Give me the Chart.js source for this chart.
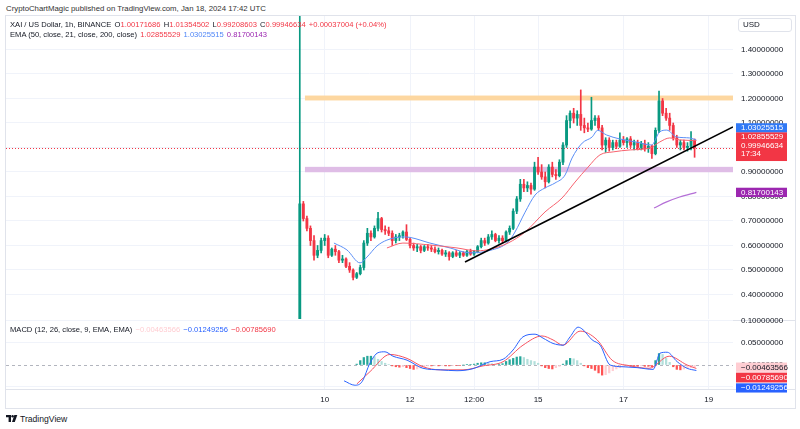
<!DOCTYPE html>
<html><head><meta charset="utf-8">
<script src="https://cdn.jsdelivr.net/npm/chart.js@4.4.1/dist/chart.umd.min.js"></script>
<style>
body{margin:0;width:800px;height:429px;background:#fff;position:relative;overflow:hidden;font-family:'Liberation Sans',Arial,sans-serif;color:#131722}
.t{position:absolute;white-space:pre;font-size:7.6px;line-height:10px}
.t span{margin-left:3.2px}
.r{color:#f23645}
canvas{position:absolute}
.ln{position:absolute;background:#e0e3eb}
</style></head><body>
<div class="t" style="left:6px;top:4px;color:#333;font-size:7.8px">CryptoChartMagic published on TradingView.com, Jan 18, 2024 17:42 UTC</div>
<div style="position:absolute;left:5px;top:15px;width:791px;height:394px;border:1px solid #e0e3eb;box-sizing:border-box"></div>
<div class="ln" style="left:5px;top:320px;width:791px;height:1px"></div>
<div class="ln" style="left:5px;top:389px;width:791px;height:1px"></div>
<canvas id="main" width="789" height="303" style="left:6px;top:16px"></canvas>
<canvas id="macd" width="789" height="98" style="left:6px;top:310px"></canvas>
<div class="t" style="left:10px;top:20px">XAI / US Dollar, 1h, BINANCE<span>O<b class="r" style="font-weight:normal">1.00171686</b></span><span>H<b class="r" style="font-weight:normal">1.01354502</b></span><span>L<b class="r" style="font-weight:normal">0.99208603</b></span><span>C<b class="r" style="font-weight:normal">0.99946634</b></span><span class="r">+0.00037004 (+0.04%)</span></div>
<div class="t" style="left:10px;top:30px">EMA (50, close, 21, close, 200, close)<span style="color:#f23645">1.02855529</span><span style="color:#4f86f7">1.03025515</span><span style="color:#9c27b0">0.81700143</span></div>
<div class="t" style="left:10px;top:324.5px">MACD (12, 26, close, 9, EMA, EMA)<span style="color:#ffcdd2">−0.00463566</span><span style="color:#2962ff">−0.01249256</span><span style="color:#f23645">−0.00785690</span></div>
<div style="position:absolute;left:738px;top:18px;width:54px;height:14px;border:1px solid #e0e3eb;border-radius:3px;box-sizing:border-box;background:#fff"></div>
<div class="t" style="left:743px;top:20px;font-size:8px">USD</div>
<svg style="position:absolute;left:6px;top:415px" width="12" height="8" viewBox="0 0 12 8"><path d="M0 0H5V7H2.6V2.2H0Z" fill="#131722"/><circle cx="6.6" cy="1.2" r="1.2" fill="#131722"/><path d="M8.3 0H11.3L8.8 7H6Z" fill="#131722"/></svg>
<div class="t" style="left:20px;top:414px;font-size:8.6px">TradingView</div>
<script>
// ---- data ----
const priceTicks = [0.4,0.5,0.6,0.7,0.8,0.9,1.0,1.1,1.2,1.3,1.4];
const macdTicks = [-0.05,0,0.05,0.1];
const timeTickHours = [24,72,108,144,192,240];          // hours since Jan 9 00:00 UTC
const timeTickLabels = ['10','12','12:00','15','17','19'];
const firstCandleHour = 10, candleStepHours = 2;
const opens = [0.30,0.77,0.71,0.67,0.62,0.56,0.58,0.62,0.63,0.56,0.585,0.575,0.54,0.545,0.515,0.50,0.47,0.485,0.51,0.61,
0.65,0.635,0.67,0.71,0.665,0.66,0.65,0.62,0.635,0.64,0.655,0.625,0.60,0.59,0.595,0.58,0.595,0.59,0.585,0.575,
0.58,0.565,0.57,0.555,0.57,0.56,0.57,0.56,0.575,0.565,0.575,0.595,0.62,0.61,0.635,0.645,0.62,0.63,0.62,0.655,
0.67,0.74,0.79,0.85,0.835,0.845,0.83,0.92,0.90,0.88,0.86,0.92,0.89,0.885,0.94,1.01,1.11,1.14,1.12,1.135,
1.09,1.08,1.075,1.11,1.12,1.08,1.01,1.03,1.00,1.02,1.005,1.03,1.02,1.035,1.01,1.02,1.00,1.015,0.995,1.005,
0.975,1.07,1.19,1.14,1.12,1.09,1.04,1.01,1.02,1.00,1.005,1.03];
const highs = [3.00,0.78,0.72,0.68,0.64,0.60,0.63,0.645,0.64,0.59,0.60,0.58,0.56,0.55,0.53,0.505,0.49,0.52,0.62,0.67,
0.66,0.68,0.735,0.715,0.68,0.675,0.66,0.645,0.65,0.66,0.685,0.63,0.61,0.605,0.60,0.60,0.605,0.60,0.595,0.59,
0.585,0.58,0.575,0.575,0.58,0.575,0.575,0.58,0.585,0.58,0.60,0.63,0.63,0.645,0.66,0.65,0.64,0.64,0.66,0.68,
0.75,0.80,0.87,0.87,0.86,0.855,0.94,0.96,0.93,0.90,0.93,0.94,0.91,0.95,1.02,1.13,1.15,1.16,1.15,1.235,
1.12,1.10,1.205,1.13,1.13,1.09,1.04,1.04,1.03,1.03,1.06,1.045,1.04,1.045,1.03,1.03,1.025,1.03,1.02,1.01,
1.08,1.23,1.20,1.16,1.14,1.10,1.05,1.03,1.03,1.02,1.065,1.035];
const lows = [0.10,0.70,0.66,0.60,0.54,0.55,0.57,0.60,0.55,0.555,0.56,0.53,0.53,0.51,0.49,0.46,0.465,0.48,0.50,0.60,
0.62,0.63,0.66,0.655,0.645,0.64,0.60,0.61,0.62,0.63,0.62,0.59,0.58,0.575,0.57,0.575,0.58,0.575,0.57,0.565,
0.56,0.555,0.54,0.55,0.555,0.55,0.555,0.555,0.56,0.56,0.57,0.59,0.60,0.605,0.625,0.615,0.61,0.61,0.615,0.645,
0.665,0.73,0.78,0.82,0.82,0.81,0.825,0.89,0.87,0.835,0.855,0.88,0.87,0.88,0.93,1.00,1.08,1.10,1.09,1.07,
1.06,1.065,1.07,1.09,1.07,0.99,0.98,0.985,0.99,0.995,1.00,1.01,1.00,1.00,0.99,0.99,0.99,0.985,0.98,0.955,
0.97,1.06,1.13,1.11,1.07,1.03,1.00,0.99,0.99,0.985,0.99,0.96];
const closes = [0.77,0.71,0.67,0.62,0.56,0.58,0.62,0.63,0.56,0.585,0.575,0.54,0.545,0.515,0.50,0.47,0.485,0.51,0.61,0.65,
0.635,0.67,0.71,0.665,0.66,0.65,0.62,0.635,0.64,0.655,0.625,0.60,0.59,0.595,0.58,0.595,0.59,0.585,0.575,0.58,
0.565,0.57,0.555,0.57,0.56,0.57,0.56,0.575,0.565,0.575,0.595,0.62,0.61,0.635,0.645,0.62,0.63,0.62,0.655,0.67,
0.74,0.79,0.85,0.835,0.845,0.83,0.92,0.90,0.88,0.86,0.92,0.89,0.885,0.94,1.01,1.11,1.14,1.12,1.135,1.09,
1.08,1.075,1.11,1.12,1.08,1.01,1.03,1.00,1.02,1.005,1.03,1.02,1.035,1.01,1.02,1.00,1.015,0.995,1.005,0.975,
1.07,1.19,1.14,1.12,1.09,1.04,1.01,1.02,1.00,1.005,1.03,0.9995];
const ema21Hours = [29.2,36.5,43.9,47.8,53.4,59.0,68.0,72.0,83.2,94.5,105.7,117.0,127.1,131.0,136.7,142.3,147.9,153.5,159.2,163.1,168.8,174.4,177.5,182.5,189.8,199.4,207.8,212.3,216.3,221.9,229.2,233.0];
const ema21Values = [0.61,0.582,0.529,0.553,0.598,0.622,0.635,0.633,0.61,0.59,0.57,0.58,0.614,0.655,0.736,0.806,0.835,0.855,0.888,0.957,1.018,1.043,1.07,1.051,1.035,1.022,1.01,1.063,1.071,1.043,1.039,1.0303];
const ema50Hours = [59.0,68.0,83.2,98.4,109.7,117.0,127.1,136.7,147.9,157.5,164.8,172.1,178.8,186.2,195.7,207.0,212.3,218.0,223.6,233.0];
const ema50Values = [0.59,0.61,0.602,0.59,0.578,0.585,0.61,0.655,0.737,0.794,0.859,0.92,0.97,0.982,0.99,0.998,1.022,1.039,1.031,1.0286];
const ema200Hours = [209.2,216.3,223.6,233.0];
const ema200Values = [0.753,0.778,0.798,0.817];
const trendHours = [102.9,253.6];
const trendValues = [0.533,1.084];
const zoneStartHours = [12.9,12.9];
const zoneLows = [1.192,0.899];
const zoneHighs = [1.212,0.921];
const zoneColors = ['#fdd7a0','#dfbde6'];
const lastClose = 0.99946634;
const histValues = [null,null,null,null,null,null,null,null,null,null,null,null,null,null,null,null,
0.002,0.010,0.017,0.020,0.020,0.019,0.013,0.008,0.004,0.001,
-0.002,-0.004,-0.005,-0.004,-0.006,-0.008,-0.010,-0.009,-0.007,-0.004,
-0.002,-0.002,-0.001,-0.002,-0.001,-0.002,-0.002,-0.001,-0.001,-0.001,
0.000,0.001,0.001,0.002,0.004,0.005,0.005,0.004,0.003,0.001,
0.001,0.003,0.008,0.012,0.015,0.018,0.019,0.017,0.013,0.010,
0.008,0.004,-0.002,-0.006,-0.008,-0.009,-0.006,-0.003,0.002,0.010,
0.015,0.014,0.010,0.004,-0.002,-0.006,-0.008,-0.012,-0.018,-0.023,
-0.022,-0.018,-0.013,-0.009,-0.006,-0.004,-0.003,-0.003,-0.003,-0.003,
-0.002,-0.003,-0.003,-0.004,0.010,0.026,0.024,0.016,0.006,-0.004,
-0.010,-0.011,-0.009,-0.007,-0.006,-0.00463566];
const macdHours = [34.9,41.0,45.0,49.5,54.0,57.9,62.4,70.3,79.3,88.9,98.4,107.4,117.0,124.3,129.9,135.5,142.3,146.8,152.4,158.0,162.0,166.5,169.3,174.4,178.9,184.5,191.8,199.7,208.7,212.6,216.6,222.2,227.8,233.0];
const macdValues = [-0.036,-0.046,-0.038,0.0045,0.028,0.030,0.020,0.011,-0.0075,-0.011,-0.013,-0.0084,0.0075,0.013,0.034,0.064,0.070,0.061,0.049,0.045,0.064,0.086,0.080,0.057,0.045,0.000,-0.004,-0.006,-0.010,0.027,0.029,0.0075,-0.0075,-0.01249256];
const signalHours = [42.1,49.5,60.7,70.3,79.3,88.9,101.8,113.0,124.3,135.5,146.2,152.4,158.0,167.6,177.2,185.6,195.2,206.4,217.7,227.8,233.0];
const signalValues = [-0.043,-0.015,0.024,0.015,-0.004,-0.011,-0.011,-0.002,0.0075,0.045,0.066,0.057,0.045,0.077,0.057,0.011,-0.0015,-0.0075,0.020,0.0,-0.0078569];

// ---- styling / build ----
const FONT = {family:"'Liberation Sans', Arial, sans-serif", size:8};
Chart.defaults.font = FONT;
Chart.defaults.color = '#131722';
const X_MIN = -155.2, X_MAX = 253.6;
const UP = '#089981', DOWN = '#f23645', GRID = '#f0f3fa';
const candleHours = closes.map((_, i) => firstCandleHour + i * candleStepHours);
const candleColors = closes.map((c, i) => c >= opens[i] ? UP : DOWN);
const pts = (hs, vs) => hs.map((h, i) => ({x: h, y: vs[i]}));
const lineDs = (data, color, order, w) => ({type:'line', data, borderColor:color, borderWidth:w||1, pointRadius:0, cubicInterpolationMode:'monotone', order});
const noPad = s => { s.paddingTop = 0; s.paddingBottom = 0; s.paddingLeft = 0; s.paddingRight = 0; };

function badge(ctx, top, h, bg, fg, lines) {
  ctx.fillStyle = bg;
  ctx.fillRect(730, top, 51, h);
  ctx.fillStyle = fg;
  ctx.font = "8px 'Liberation Sans', Arial, sans-serif";
  ctx.textBaseline = 'middle';
  ctx.textAlign = 'left';
  lines.forEach((t, i) => ctx.fillText(t, 735, top + 4.8 + i * 7.5));
}

const mainOverlay = {
  id: 'mainOverlay',
  beforeDatasetsDraw(chart) {
    const {ctx, chartArea: a, scales: {x, y}} = chart;
    ctx.save();
    ctx.beginPath(); ctx.rect(a.left, a.top, a.right - a.left, a.bottom - a.top); ctx.clip();
    zoneLows.forEach((lo, i) => {
      const x0 = x.getPixelForValue(zoneStartHours[i]);
      const y0 = y.getPixelForValue(zoneHighs[i]), y1 = y.getPixelForValue(lo);
      ctx.fillStyle = zoneColors[i];
      ctx.fillRect(x0, y0, a.right - x0, y1 - y0);
    });
    const yc = Math.round(y.getPixelForValue(lastClose)) + 0.5;
    ctx.strokeStyle = DOWN; ctx.lineWidth = 1; ctx.setLineDash([1, 2]);
    ctx.beginPath(); ctx.moveTo(a.left, yc); ctx.lineTo(a.right, yc); ctx.stroke();
    ctx.restore();
  },
  afterDraw(chart) {
    const {ctx, scales: {y}} = chart;
    ctx.save();
    const top = y.getPixelForValue(lastClose) - 6.6;
    badge(ctx, top, 20, '#f23645', '#fff', ['0.99946634', '17:34']);
    badge(ctx, top - 8.8, 8.8, '#f23645', '#fff', ['1.02855529']);
    badge(ctx, top - 17.8, 9, '#3179f5', '#fff', ['1.03025515']);
    badge(ctx, y.getPixelForValue(ema200Values[ema200Values.length - 1]) - 4.6, 9.3, '#9c27b0', '#fff', ['0.81700143']);
    ctx.restore();
  }
};

new Chart(document.getElementById('main'), {
  type: 'bar',
  data: {datasets: [
    lineDs(pts(trendHours, trendValues), '#000000', 0, 1.6),
    lineDs(pts(ema200Hours, ema200Values), '#b46fd6', 1, 1.2),
    lineDs(pts(ema50Hours, ema50Values), '#f7626e', 2, 1),
    lineDs(pts(ema21Hours, ema21Values), '#5b8ff6', 3, 1),
    {type:'bar', data: candleHours.map((h, i) => ({x: h, y: [lows[i], highs[i]]})), backgroundColor: candleColors, barThickness: 1, grouped: false, order: 6, borderWidth: 0},
    {type:'bar', data: candleHours.map((h, i) => ({x: h, y: [opens[i], closes[i]]})), backgroundColor: candleColors, barThickness: 2.2, grouped: false, order: 5, borderWidth: 0, minBarLength: 1}
  ]},
  options: {
    responsive: false, animation: false, events: [],
    layout: {padding: 0},
    plugins: {legend: {display: false}, tooltip: {enabled: false}},
    scales: {
      x: {type: 'linear', min: X_MIN, max: X_MAX, offset: false,
          afterBuildTicks: s => { s.ticks = timeTickHours.map(v => ({value: v})); },
          ticks: {display: false}, grid: {color: GRID, drawTicks: false, offset: false}, border: {display: false},
          afterFit: s => { s.height = 0; noPad(s); }},
      y: {type: 'linear', position: 'right', min: 0.30, max: 1.5367,
          afterBuildTicks: s => { s.ticks = priceTicks.map(v => ({value: v})); },
          ticks: {padding: 8, callback: v => v.toFixed(8), font: FONT, color: '#131722'},
          grid: {color: GRID, drawTicks: false}, border: {display: false},
          afterFit: s => { s.width = 62; noPad(s); }}
    }
  },
  plugins: [mainOverlay]
});

const histColors = histValues.map((v, i) => {
  const p = i > 0 ? histValues[i - 1] : null;
  if (v == null) return 'rgba(0,0,0,0)';
  if (v >= 0) return (p == null || v >= p) ? '#26a69a' : '#b2dfdb';
  return (p == null || v <= p) ? '#ff5252' : '#ffcdd2';
});

const macdOverlay = {
  id: 'macdOverlay',
  beforeDatasetsDraw(chart) {
    const {ctx, chartArea: a, scales: {y}} = chart;
    const y0 = Math.round(y.getPixelForValue(0)) + 0.5;
    ctx.save();
    ctx.strokeStyle = '#b2b5be'; ctx.lineWidth = 1; ctx.setLineDash([3, 3]);
    ctx.beginPath(); ctx.moveTo(a.left, y0); ctx.lineTo(a.right, y0); ctx.stroke();
    ctx.restore();
  },
  afterDraw(chart) {
    const {ctx, scales: {y}} = chart;
    ctx.save();
    const yh = y.getPixelForValue(histValues[histValues.length - 1]);
    badge(ctx, yh - 4.5, 9.3, '#ffcdd2', '#131722', ['−0.00463566']);
    badge(ctx, yh + 5.6, 9.8, '#f23645', '#fff', ['−0.00785690']);
    badge(ctx, yh + 16.3, 9.2, '#2962ff', '#fff', ['−0.01249256']);
    ctx.restore();
  }
};

new Chart(document.getElementById('macd'), {
  type: 'bar',
  data: {datasets: [
    lineDs(pts(macdHours, macdValues), '#2962ff', 0, 1),
    lineDs(pts(signalHours, signalValues), '#f7525f', 1, 1),
    {type:'bar', data: candleHours.map((h, i) => ({x: h, y: histValues[i]})).filter(d => d.y != null),
     backgroundColor: histColors.filter((c, i) => histValues[i] != null), barThickness: 1.6, grouped: false, order: 2, borderWidth: 0}
  ]},
  options: {
    responsive: false, animation: false, events: [],
    layout: {padding: {top: 10, left: 0, right: 0, bottom: 0}},
    plugins: {legend: {display: false}, tooltip: {enabled: false}},
    scales: {
      x: {type: 'linear', min: X_MIN, max: X_MAX, offset: false,
          afterBuildTicks: s => { s.ticks = timeTickHours.map(v => ({value: v})); },
          ticks: {autoSkip: false, maxRotation: 0, padding: 6, font: FONT, color: '#131722',
                  callback: v => timeTickLabels[timeTickHours.indexOf(v)]},
          grid: {color: GRID, drawTicks: false, offset: false}, border: {display: false},
          afterFit: s => { s.height = 19; noPad(s); }},
      y: {type: 'linear', position: 'right', min: -0.05455, max: 0.10227,
          afterBuildTicks: s => { s.ticks = macdTicks.map(v => ({value: v})); },
          ticks: {padding: 8, callback: v => v.toFixed(8), font: FONT, color: '#131722'},
          grid: {color: c => (c.tick && c.tick.value === 0) ? 'rgba(0,0,0,0)' : GRID, drawTicks: false}, border: {display: false},
          afterFit: s => { s.width = 62; noPad(s); }}
    }
  },
  plugins: [macdOverlay]
});
</script>
</body></html>
